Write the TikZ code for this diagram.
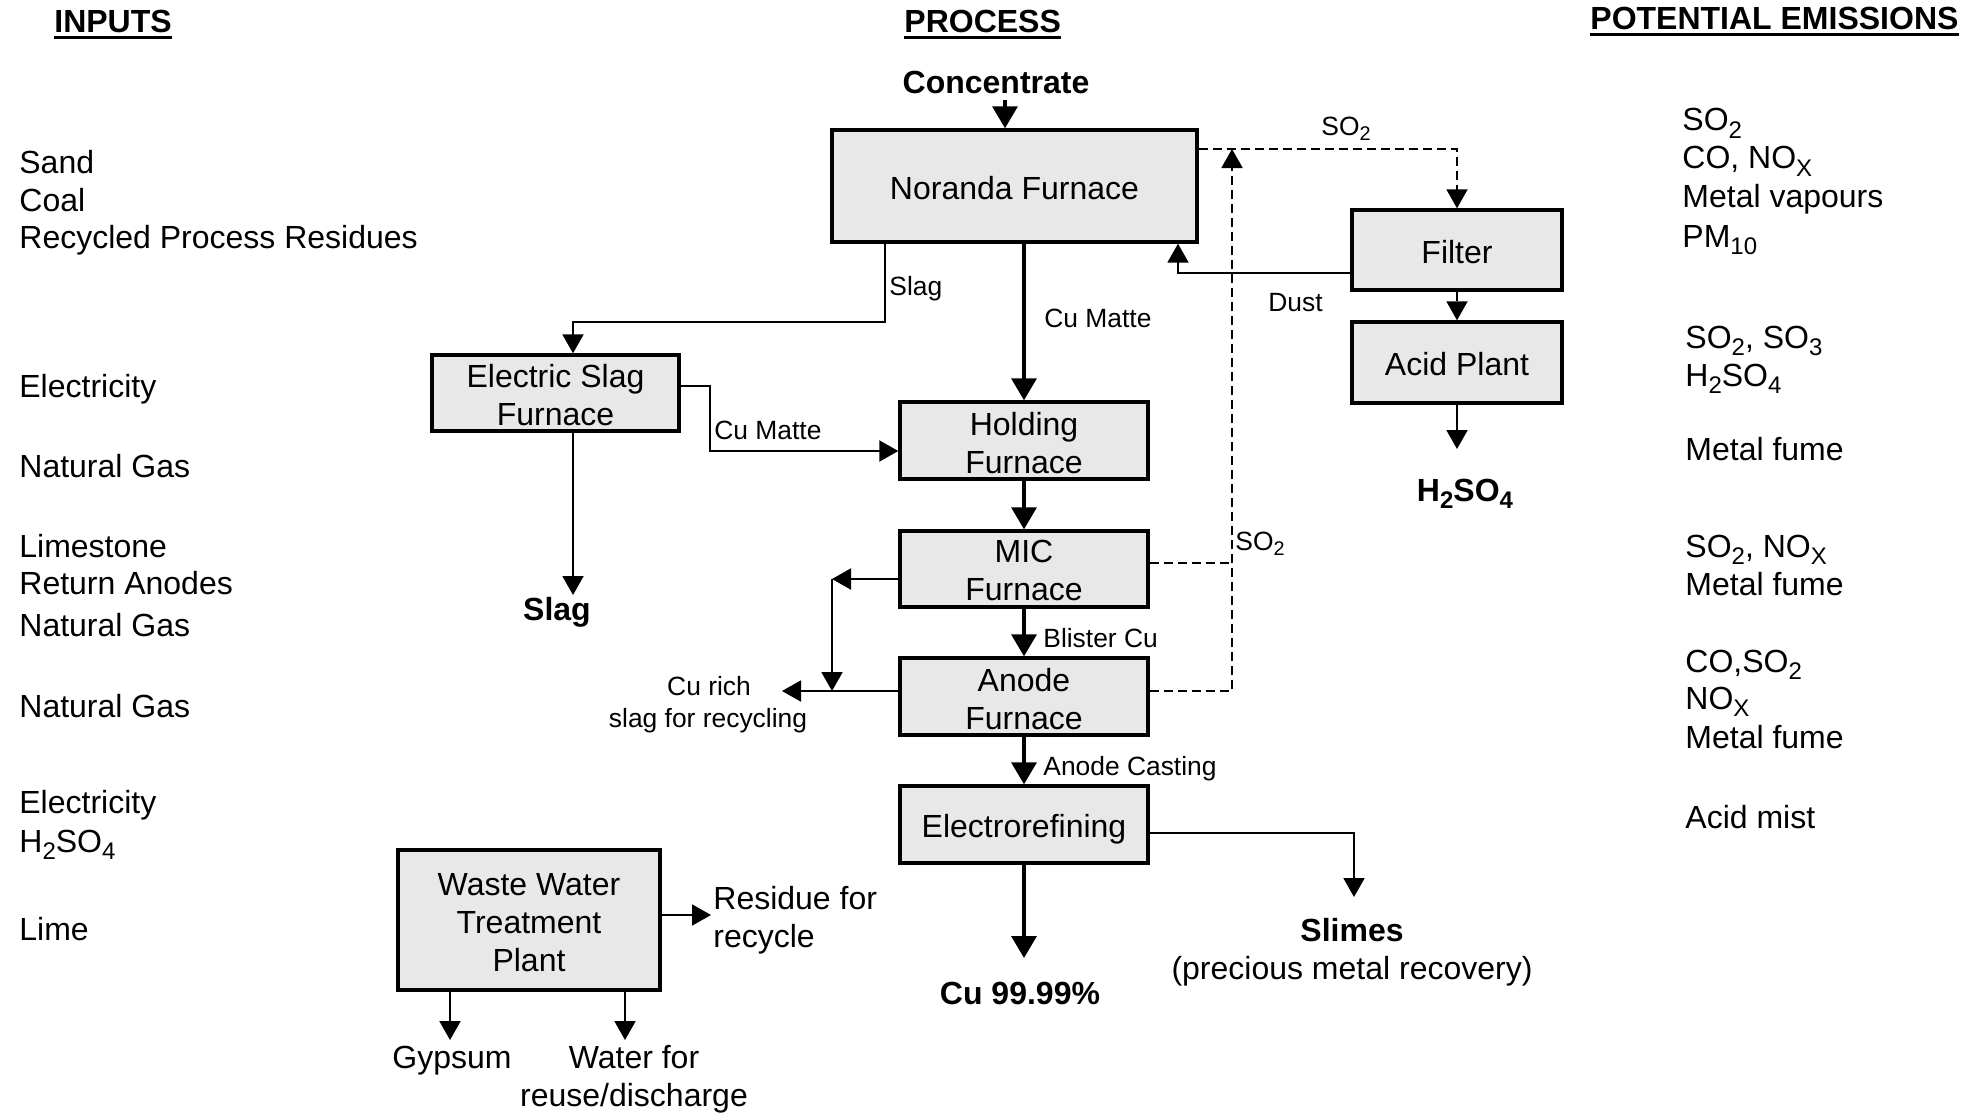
\documentclass[tikz,border=0pt]{standalone}
\usepackage{fontspec}
\setmainfont{Liberation Sans}
\usepackage{graphicx}
\usetikzlibrary{arrows.meta}
\newcommand{\sbs}[1]{\raisebox{-0.22em}{\scalebox{0.75}{#1}}}
\begin{document}
\begin{tikzpicture}[x=0.5pt,y=-0.5pt,
  box/.style={draw, line width=1.7pt, fill=black!9, inner sep=0pt},
  boxt/.style={align=center, inner sep=0pt, anchor=center, font=\fontsize{16}{19}\selectfont},
  txt/.style={inner sep=0pt, anchor=base west, font=\fontsize{16}{19}\selectfont},
  txtc/.style={inner sep=0pt, anchor=base, font=\fontsize{16}{19}\selectfont},
  btxt/.style={inner sep=0pt, anchor=base, font=\bfseries\fontsize{16}{19}\selectfont},
  hdr/.style={inner sep=0pt, anchor=base west, font=\bfseries\fontsize{16}{19}\selectfont},
  lbl/.style={inner sep=0pt, anchor=base west, font=\fontsize{13.2}{16}\selectfont},
  lblc/.style={inner sep=0pt, anchor=base, font=\fontsize{13.2}{16}\selectfont},
  thk/.style={line width=1.7pt, -{Triangle[length=11pt,width=12.5pt]}},
  thn/.style={line width=1pt, -{Triangle[length=9.5pt,width=10.5pt]}},
  dsh/.style={line width=1pt, dash pattern=on 4.5pt off 2.5pt},
  dsharr/.style={dsh, -{Triangle[length=9.5pt,width=10.5pt]}},
  uline/.style={line width=1.7pt}
]
\useasboundingbox[fill=white] (0,0) rectangle (1980,1113);

% headers
\node[hdr] (hin) at (54,33) {INPUTS};
\node[hdr] (hpr) at (904,33) {PROCESS};
\node[hdr] (hem) at (1590,30) {POTENTIAL EMISSIONS};
\foreach \h in {hin,hpr,hem}
  \draw[uline] ([yshift=-2.3pt]\h.base west) -- ([yshift=-2.3pt]\h.base east);

% inputs
\node[txt] (i1) at (19,173) {Sand};
\node[txt] (i2) at (19,211) {Coal};
\node[txt] (i3) at (19,248) {Recycled Process Residues};
\node[txt] (i4) at (19,397) {Electricity};
\node[txt] (i5) at (19,477) {Natural Gas};
\node[txt] (i6) at (19,557) {Limestone};
\node[txt] (i7) at (19,594) {Return Anodes};
\node[txt] (i8) at (19,636) {Natural Gas};
\node[txt] (i9) at (19,717) {Natural Gas};
\node[txt] (i10) at (19,813) {Electricity};
\node[txt] (i11) at (19,852) {H\sbs{2}SO\sbs{4}};
\node[txt] (i12) at (19,940) {Lime};

% emissions
\node[txt] (e1) at (1682,131) {SO\sbs{2}};
\node[txt] (e2) at (1682,169) {CO, NO\sbs{X}};
\node[txt] (e3) at (1682,207) {Metal vapours};
\node[txt] (e4) at (1682,247) {PM\sbs{10}};
\node[txt] (e5) at (1685,348) {SO\sbs{2}, SO\sbs{3}};
\node[txt] (e6) at (1685,386) {H\sbs{2}SO\sbs{4}};
\node[txt] (e7) at (1685,460) {Metal fume};
\node[txt] (e8) at (1685,557) {SO\sbs{2}, NO\sbs{X}};
\node[txt] (e9) at (1685,595) {Metal fume};
\node[txt] (e10) at (1685,672) {CO,SO\sbs{2}};
\node[txt] (e11) at (1685,709) {NO\sbs{X}};
\node[txt] (e12) at (1685,748) {Metal fume};
\node[txt] (e13) at (1685,828) {Acid mist};

% process boxes
\node[box, minimum width=182.5pt, minimum height=56pt] (nor) at (1014.5,186) {};
\node[box, minimum width=105pt, minimum height=40pt] (filt) at (1457,250) {};
\node[box, minimum width=105pt, minimum height=40.5pt] (acid) at (1457,362.5) {};
\node[box, minimum width=123.5pt, minimum height=38pt] (esf) at (555.5,393) {};
\node[box, minimum width=124pt, minimum height=38.5pt] (hold) at (1024,440.5) {};
\node[box, minimum width=124pt, minimum height=38pt] (mic) at (1024,569) {};
\node[box, minimum width=124pt, minimum height=38.5pt] (anode) at (1024,696.5) {};
\node[box, minimum width=124pt, minimum height=38.5pt] (elec) at (1024,824.5) {};
\node[box, minimum width=131pt, minimum height=70pt] (ww) at (529,920) {};

% box texts
\node[boxt] (norT) at ([yshift=-1.2pt]nor.center) {Noranda Furnace};
\node[boxt] (filtT) at ([yshift=-0.8pt]filt.center) {Filter};
\node[boxt] (acidT) at ([yshift=-0.8pt]acid.center) {Acid Plant};
\node[boxt] (esfT) at ([yshift=-0.8pt]esf.center) {Electric Slag\\Furnace};
\node[boxt] (holdT) at ([yshift=-1.2pt]hold.center) {Holding\\Furnace};
\node[boxt] (micT) at ([yshift=-0.9pt]mic.center) {MIC\\Furnace};
\node[boxt] (anodeT) at ([yshift=-1.2pt]anode.center) {Anode\\Furnace};
\node[boxt] (elecT) at ([yshift=-2.4pt]elec.center) {Electrorefining};
\node[boxt] (wwT) at ([yshift=-1.2pt]ww.center) {Waste Water\\Treatment\\Plant};

% product / text nodes
\node[btxt] (conc) at (996,94) {Concentrate};
\node[btxt] (h2so4) at (1465,501) {H\sbs{2}SO\sbs{4}};
\node[btxt] (slag) at (557,620) {Slag};
\node[btxt] (cu) at (1020,1004) {Cu 99.99\%};
\node[btxt] (slimes) at (1352,941) {Slimes};
\node[txtc] (prec) at (1352,979) {(precious metal recovery)};
\node[lblc] (curich1) at (709,695) {Cu rich};
\node[lblc] (curich2) at (708,727) {slag for recycling};
\node[txt] (res1) at (713,909) {Residue for};
\node[txt] (res2) at (713,947) {recycle};
\node[txt] (gyp) at (392,1068) {Gypsum};
\node[txtc] (wat1) at (634,1068) {Water for};
\node[txtc] (wat2) at (634,1106) {reuse/discharge};

% connector labels
\node[lbl] (lso2a) at (1321,135) {SO\sbs{2}};
\node[lbl] (lslag) at (889,295) {Slag};
\node[lbl] (lcum1) at (1044,327) {Cu Matte};
\node[lbl] (ldust) at (1268,311) {Dust};
\node[lbl] (lcum2) at (714,439) {Cu Matte};
\node[lbl] (lso2b) at (1235,550) {SO\sbs{2}};
\node[lbl] (lbl1) at (1043,647) {Blister Cu};
\node[lbl] (lac) at (1043,775) {Anode Casting};

% helper coordinates
\coordinate (cin) at (1005,0);
\coordinate (y149) at (0,149);
\coordinate (acidtip) at (1457,449);
\coordinate (dustx) at (1178,273);
\coordinate (xr) at (1232,0);
\coordinate (ym) at (0,563);
\coordinate (ya) at (0,691);
\coordinate (sl1) at (885,322);
\coordinate (sl2) at (573,322);
\coordinate (slagtip) at (573,595);
\coordinate (cm1) at (710,386);
\coordinate (cm2) at (710,451);
\coordinate (cr1) at (832,579);
\coordinate (cr2) at (832,691);
\coordinate (cr3) at (782,691);
\coordinate (cutip) at (1024,958);
\coordinate (sm1) at (1354,833);
\coordinate (smtip) at (1354,897);
\coordinate (restip) at (711,915);
\coordinate (gyptip) at (450,1040);
\coordinate (wattip) at (625,1040);

% connectors
\draw[thk] ([yshift=-2.5pt]conc.south -| cin) -- (nor.north -| cin);
\draw[dsharr] (nor.east |- y149) -| (filt.north);
\draw[dsharr] (filt.south) -- (acid.north);
\draw[thn] (acid.south) -- (acidtip);
\draw[thn] (filt.west |- dustx) -| (nor.south -| dustx);
\draw[dsharr] (anode.east |- ya) -| (xr |- y149);
\draw[dsh] (mic.east |- ym) -- (xr |- ym);
\draw[thn] (nor.south -| sl1) -- (sl1) -- (sl2) -- (esf.north -| sl2);
\draw[thn] (esf.south -| sl2) -- (slagtip);
\draw[thn] (esf.east |- cm1) -- (cm1) -- (cm2) -- (hold.west |- cm2);
\draw[thk] (nor.south -| hold.north) -- (hold.north);
\draw[thk] (hold.south) -- (mic.north);
\draw[thk] (mic.south) -- (anode.north);
\draw[thk] (anode.south) -- (elec.north);
\draw[thk] (elec.south) -- (cutip);
\draw[thn] (elec.east |- sm1) -- (sm1) -- (smtip);
\draw[thn] (mic.west |- cr1) -- (cr1);
\draw[thn] (cr1) -- (cr2);
\draw[thn] (anode.west |- cr2) -- (cr3);
\draw[thn] (ww.east |- restip) -- (restip);
\draw[thn] (ww.south -| gyptip) -- (gyptip);
\draw[thn] (ww.south -| wattip) -- (wattip);
\end{tikzpicture}
\end{document}
